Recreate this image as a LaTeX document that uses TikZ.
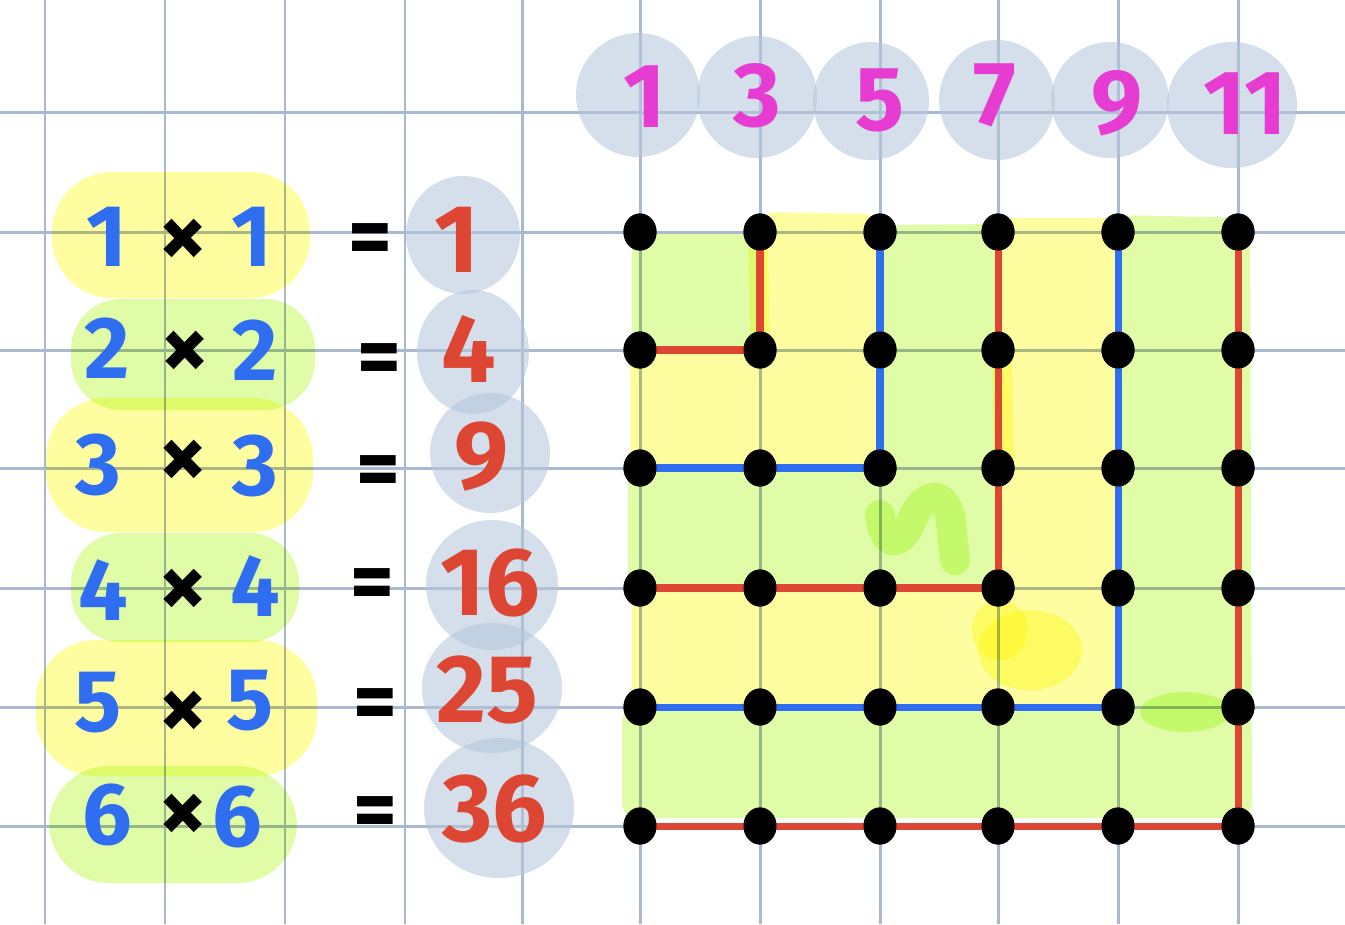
\documentclass[tikz,border=0pt]{standalone}
\usepackage{fontspec}
\setmainfont{Fira Sans}
\usetikzlibrary{shapes.geometric}
\definecolor{gridc}{HTML}{A9B9D1}
\definecolor{hlg}{HTML}{E0FCA6}
\definecolor{hly}{HTML}{FEFDA0}
\definecolor{bubblec}{HTML}{B4C6DC}
\definecolor{penred}{HTML}{DC4632}
\definecolor{penblue}{HTML}{2F6EF0}
\definecolor{penmag}{HTML}{E63CD2}
\tikzset{
  gridline/.style={draw=gridc, line width=1.7pt},
  bubble/.style={fill=bubblec, fill opacity=0.55},
  dotnode/.style={ellipse, fill=black, minimum width=0.66cm, minimum height=0.74cm, inner sep=0pt},
  redpath/.style={draw=penred, line width=4pt, line join=round},
  bluepath/.style={draw=penblue, line width=4pt, line join=round},
  factor/.style={text=penblue, inner sep=0pt, font=\fontsize{50}{50}\selectfont\bfseries},
  timessign/.style={inner sep=0pt, font=\fontsize{54}{54}\selectfont\bfseries},
  eqsign/.style={inner sep=0pt, font=\fontsize{48}{48}\selectfont\bfseries},
  result/.style={text=penred, inner sep=0pt, font=\fontsize{55}{55}\selectfont\bfseries},
  oddnum/.style={text=penmag, inner sep=0pt, font=\fontsize{52}{52}\selectfont\bfseries},
  softfill/.style={rounded corners=0.3cm},
}
\begin{document}
\begin{tikzpicture}[x=0.02cm, y=-0.02cm]
\useasboundingbox (0,0) rectangle (1345,924);
\fill[white] (0,0) rectangle (1345,924);
% grid
\foreach \gx in {45,165,285,405,522,640,760,880,998,1118,1238}
  \draw[gridline] (\gx,0) -- (\gx,924);
\foreach \gy in {112,232,350,468,588,707,826}
  \draw[gridline] (0,\gy) -- (1345,\gy);
% highlights
\begin{scope}[blend mode=multiply]
  % left
  \fill[hly, rounded corners=1.2cm] (52,172) rectangle (310,298);
  \fill[hlg, rounded corners=1.0cm] (71,299) rectangle (315,410);
  \fill[hly, rounded corners=1.2cm] (46,398) rectangle (313,532);
  \fill[hlg, rounded corners=1.0cm] (71,533) rectangle (299,642);
  \fill[hly, rounded corners=1.2cm] (36,640) rectangle (317,776);
  \fill[hlg, rounded corners=1.2cm] (49,766) rectangle (297,883);
  % right
  \fill[hlg, softfill] (632,234) -- (760,234) -- (760,350) -- (632,350) -- cycle;
  \fill[hly, softfill] (760,212) -- (880,214) -- (880,468) -- (630,468) -- (630,350) -- (760,350) -- cycle;
  \fill[hlg, softfill] (880,225) -- (998,224) -- (998,588) -- (628,588) -- (628,468) -- (880,468) -- cycle;
  \fill[hly, softfill] (998,218) -- (1118,218) -- (1118,707) -- (632,707) -- (632,588) -- (998,588) -- cycle;
  \fill[hlg, softfill] (1118,215) -- (1250,218) -- (1252,818) -- (622,818) -- (622,707) -- (1118,707) -- cycle;
  % overlapping strokes
  \draw[hlg, line width=17pt, line cap=round, line join=round]
    (880,515) .. controls (884,548) and (900,548) .. (912,520)
    .. controls (922,495) and (942,488) .. (950,515) -- (955,560);
  \fill[hly] (1030,650) ellipse [x radius=52, y radius=40];
  \fill[hly] (1000,630) ellipse [x radius=28, y radius=30];
  \fill[hlg] (1185,712) ellipse [x radius=45, y radius=20];
  \draw[hly, line width=11pt, line cap=round] (758,245) -- (760,335);
  \draw[hly, line width=11pt, line cap=round] (1002,360) -- (1004,460);
\end{scope}
% bubbles
\fill[bubble] (638,95) ellipse [x radius=62, y radius=62];
\fill[bubble] (757,97) ellipse [x radius=60, y radius=61];
\fill[bubble] (871,101) ellipse [x radius=58, y radius=59];
\fill[bubble] (997,100) ellipse [x radius=58, y radius=60];
\fill[bubble] (1110,100) ellipse [x radius=59, y radius=58];
\fill[bubble] (1232,105) ellipse [x radius=65, y radius=63];
\fill[bubble] (463,235) ellipse [x radius=57, y radius=59];
\fill[bubble] (473,352) ellipse [x radius=56, y radius=62];
\fill[bubble] (490,453) ellipse [x radius=60, y radius=60];
\fill[bubble] (492,585) ellipse [x radius=66, y radius=65];
\fill[bubble] (492,688) ellipse [x radius=70, y radius=65];
\fill[bubble] (499,808) ellipse [x radius=75, y radius=70];
% dots
\foreach \c/\dx in {1/640,2/760,3/880,4/998,5/1118,6/1238}
  \foreach \r/\dy in {1/232,2/350,3/468,4/588,5/707,6/826}
    \node[dotnode] (d-\c-\r) at (\dx,\dy) {};
% L-shaped connectors
\draw[redpath] (d-2-1.center) -- (d-2-2.center) -- (d-1-2.center);
\draw[bluepath] (d-3-1.center) -- (d-3-3.center) -- (d-1-3.center);
\draw[redpath] (d-4-1.center) -- (d-4-4.center) -- (d-1-4.center);
\draw[bluepath] (d-5-1.center) -- (d-5-5.center) -- (d-1-5.center);
\draw[redpath] (d-6-1.center) -- (d-6-6.center) -- (d-1-6.center);
% dots drawn again over the connectors
\foreach \c in {1,...,6}
  \foreach \r in {1,...,6}
    \fill (d-\c-\r.center) ellipse [x radius=16.5, y radius=18.5];
% top odd numbers
\node[oddnum] (o1) at (645,97) {1};
\node[oddnum] (o3) at (757,96) {3};
\node[oddnum] (o5) at (880,100) {5};
\node[oddnum] (o7) at (995,95) {7};
\node[oddnum] (o9) at (1117,103) {9};
\node[oddnum] (o11) at (1245,104) {11};
% left equations
\node[factor] (a1) at (107,237) {1};
\node[timessign] (x1) at (183,243) {×};
\node[factor] (b1) at (252,237) {1};
\node[eqsign] (e1) at (370,245) {=};
\node[result] (r1) at (457,240) {1};

\node[factor] (a2) at (107,348) {2};
\node[timessign] (x2) at (185,355) {×};
\node[factor] (b2) at (255,350) {2};
\node[eqsign] (e2) at (379,365) {=};
\node[result] (r2) at (469,349) {4};

\node[factor] (a3) at (98,465) {3};
\node[timessign] (x3) at (183,464) {×};
\node[factor] (b3) at (255,466) {3};
\node[eqsign] (e3) at (378,477) {=};
\node[result] (r3) at (482,457) {9};

\node[factor] (a4) at (103,590) {4};
\node[timessign] (x4) at (183,593) {×};
\node[factor] (b4) at (255,586) {4};
\node[eqsign] (e4) at (372,590) {=};
\node[result] (r4) at (490,583) {16};

\node[factor] (a5) at (98,703) {5};
\node[timessign] (x5) at (183,715) {×};
\node[factor] (b5) at (250,701) {5};
\node[eqsign] (e5) at (375,710) {=};
\node[result] (r5) at (487,690) {25};

\node[factor] (a6) at (107,815) {6};
\node[timessign] (x6) at (183,818) {×};
\node[factor] (b6) at (237,817) {6};
\node[eqsign] (e6) at (375,818) {=};
\node[result] (r6) at (495,809) {36};
\end{tikzpicture}
\end{document}
